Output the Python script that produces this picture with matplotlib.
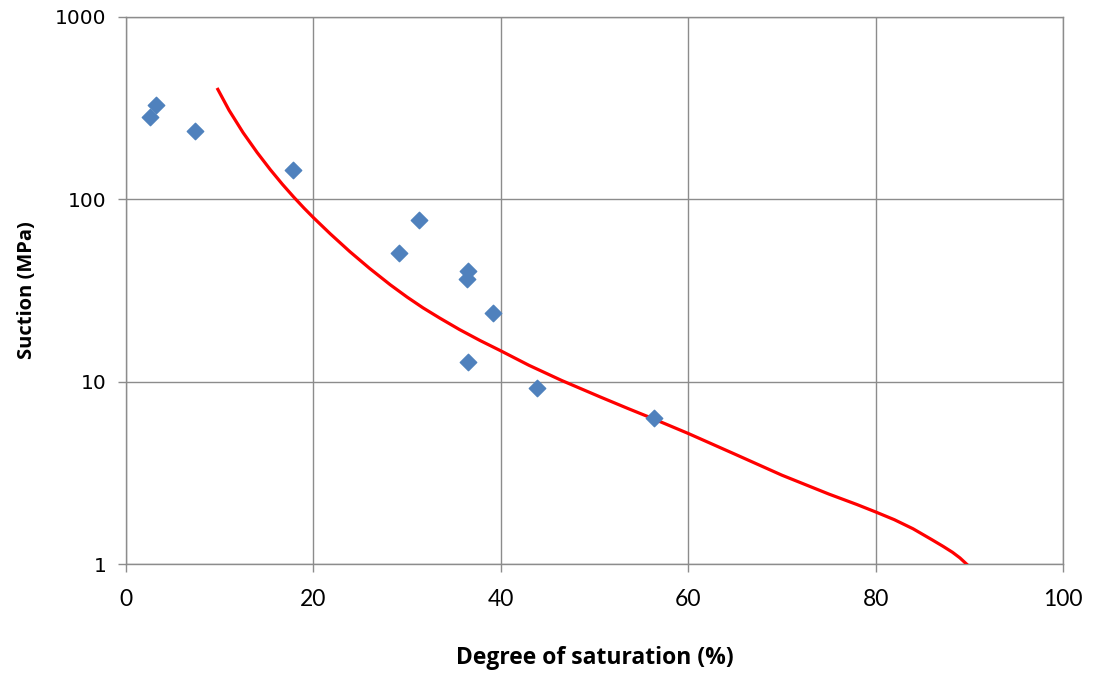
import matplotlib
matplotlib.use('Agg')
import matplotlib.pyplot as plt
from matplotlib.ticker import FixedLocator, NullLocator, FixedFormatter

# measured points
sat_data = [2.6, 3.2, 7.4, 17.8, 29.1, 31.3, 36.5, 36.4, 39.2, 36.5, 43.9, 56.3]
suction_data = [284, 329, 238, 145, 50.6, 77, 40.6, 36.5, 23.7, 12.8, 9.2, 6.3]

# fitted curve
sat_fit = [9.8, 11.0, 12.5, 14.0, 15.4, 16.7, 17.9, 19.0, 20.0, 21.8, 23.9, 26.0,
           28.2, 30.0, 31.7, 33.5, 35.6, 37.8, 39.9, 43.0, 46.5, 50.6, 53.5, 56.3,
           60.0, 65.0, 70.0, 75.0, 78.0, 80.0, 82.0, 84.0, 86.0, 87.2, 88.2, 89.0, 89.7]
suction_fit = [401, 308, 232, 180.5, 145.5, 120.8, 102.9, 89.5, 79.4, 64.7, 51.6, 41.8,
               34.0, 29.1, 25.4, 22.3, 19.3, 16.8, 14.85, 12.3, 10.15, 8.25, 7.15, 6.25,
               5.2, 4.0, 3.07, 2.42, 2.12, 1.93, 1.75, 1.56, 1.36, 1.25, 1.16, 1.08, 1.0]

x_ticks = [0, 20, 40, 60, 80, 100]
y_ticks = [1, 10, 100, 1000]
y_tick_labels = ['1', '10', '100', '1000']

fig = plt.figure(figsize=(10.93, 6.73), dpi=100)
ax = fig.add_axes([126 / 1093, 1 - 564 / 673, (1063 - 126) / 1093, (564 - 17) / 673])

grid_col = '#8c8c8c'
ax.set_yscale('log')
ax.set_xlim(0, 100)
ax.set_ylim(1, 1000)

ax.xaxis.set_major_locator(FixedLocator(x_ticks))
ax.yaxis.set_major_locator(FixedLocator(y_ticks))
ax.yaxis.set_major_formatter(FixedFormatter(y_tick_labels))
ax.yaxis.set_minor_locator(NullLocator())
ax.grid(True, color=grid_col, linewidth=1.0)
ax.set_axisbelow(True)

for s in ax.spines.values():
    s.set_color(grid_col)
    s.set_linewidth(1.0)

ax.tick_params(axis='both', color=grid_col, length=6, width=1.0, direction='out')
ax.tick_params(axis='x', pad=12)
ax.tick_params(axis='y', pad=8)
for lab in ax.get_xticklabels():
    lab.set_fontfamily('Lato')
    lab.set_fontsize(16.5)
for lab in ax.get_yticklabels():
    lab.set_fontfamily('DejaVu Sans')
    lab.set_fontsize(14.5)

ax.plot(sat_fit, suction_fit, color='#ff0000', linewidth=2.3, zorder=3)
ax.scatter(sat_data, suction_data, marker='D', s=70, color='#4f81bd', zorder=4)

ax.set_xlabel('Degree of saturation (%)', fontsize=16.5, fontweight='bold',
              fontfamily='Open Sans', labelpad=26)
ax.set_ylabel('Suction (MPa)', fontsize=14.5, fontweight='bold',
              fontfamily='Open Sans', labelpad=13)

fig.savefig('out.png', dpi=100)
